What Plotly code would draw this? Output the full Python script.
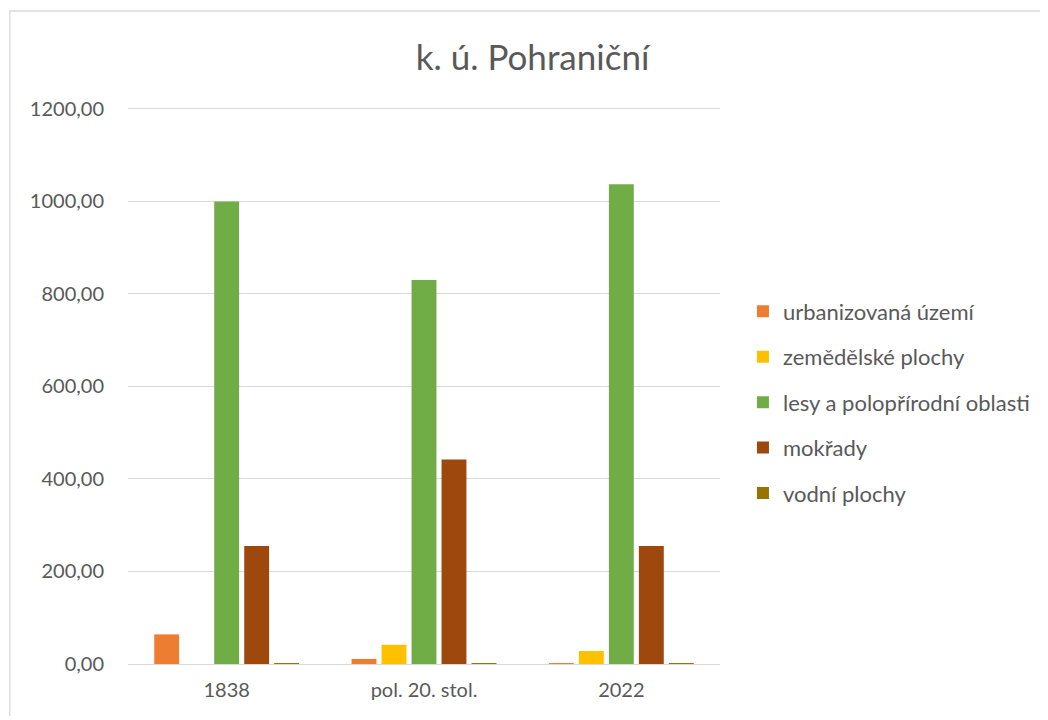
import plotly.graph_objects as go

categories = ["1838", "pol. 20. stol.", "2022"]
series_names = ["urbanizovaná území", "zemědělské plochy", "lesy a polopřírodní oblasti", "mokřady", "vodní plochy"]
urbanizovana = [64.0, 11.0, 1.0]
zemedelske = [0.0, 41.5, 28.0]
lesy = [1000.0, 830.0, 1037.0]
mokrady = [255.0, 442.0, 255.0]
vodni = [2.0, 0.8, 1.2]
colors = ["#ED7D31", "#FFC000", "#70AD47", "#9E480E", "#997300"]
y_ticks = [0, 200, 400, 600, 800, 1000, 1200]

values = [urbanizovana, zemedelske, lesy, mokrady, vodni]

OFF = 7.5  # page offset of the figure within the browser window
W, H = 1036, 708
YMAX = 1204
# target screen positions
PL, PR, PB = 127, 720, 664
PT = PB - (PB - 108) * YMAX / 1200
ml, mt = PL - OFF, PT - OFF
mr = W - (PR - OFF)
mb = H - (PB - OFF)
pw, ph = W - ml - mr, H - mt - mb


def px(x):
    return (x - OFF - ml) / pw


def py(y):
    return (H - mb - (y - OFF)) / ph


fig = go.Figure()
for i, (name, vals, c) in enumerate(zip(series_names, values, colors)):
    fig.add_trace(go.Bar(
        name=name, x=categories, y=vals, marker_color=c,
        marker_line_width=0, legendgroup=f"g{i}",
    ))

font = "Lato, 'Open Sans', sans-serif"
fig.update_layout(
    width=W, height=H,
    margin=dict(l=ml, r=mr, t=mt, b=mb, autoexpand=False),
    paper_bgcolor="white", plot_bgcolor="white",
    barmode="group", bargap=0.24, bargroupgap=0.17,
    separators=", ",
    title=dict(text="k. ú. Pohraniční", x=(532 - OFF) / W, xanchor="center", xref="container",
               y=1 - (57 - OFF) / H, yanchor="middle", yref="container",
               font=dict(family=font, size=35, color="#595959")),
    font=dict(family=font, size=20, color="#595959"),
    legend=dict(x=px(743), xanchor="left", y=py(290), yanchor="top",
                font=dict(family=font, size=22, color="#595959"),
                tracegroupgap=13.8, itemwidth=30, traceorder="grouped"),
    yaxis=dict(range=[0, YMAX], tickvals=y_ticks, tickformat=".2f",
               showgrid=True, gridcolor="#D9D9D9", gridwidth=1.3,
               zeroline=True, zerolinecolor="#D9D9D9", zerolinewidth=1.3,
               showline=False, ticks="", ticklabelstandoff=23,
               tickfont=dict(size=20, color="#595959")),
    xaxis=dict(showline=False, ticks="", showgrid=False, ticklabelstandoff=12,
               tickfont=dict(size=20, color="#595959")),
    shapes=[dict(type="rect", xref="paper", yref="paper",
                 x0=px(8.6), x1=px(1070), y0=py(740), y1=py(10),
                 line=dict(color="#D9D9D9", width=1.3), fillcolor="rgba(0,0,0,0)", layer="below")],
)

fig.write_html("out.html")
